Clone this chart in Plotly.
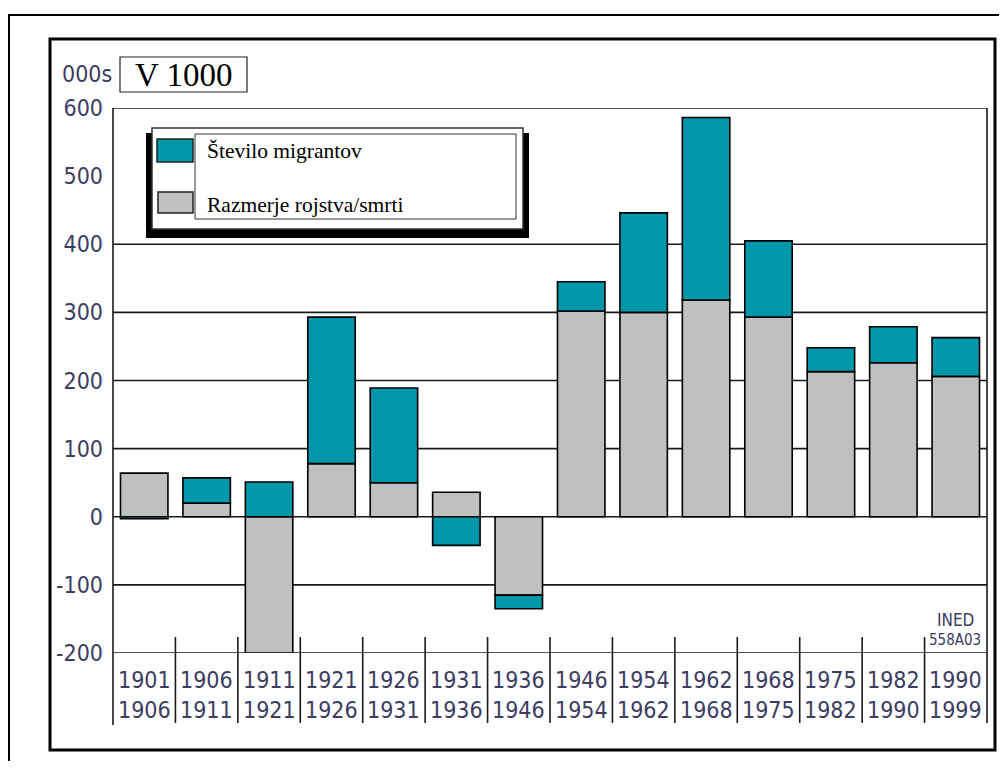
import plotly.graph_objects as go

# ---------------- data ----------------
period_start = ["1901", "1906", "1911", "1921", "1926", "1931", "1936",
                "1946", "1954", "1962", "1968", "1975", "1982", "1990"]
period_end = ["1906", "1911", "1921", "1926", "1931", "1936", "1946",
              "1954", "1962", "1968", "1975", "1982", "1990", "1999"]
natural_balance = [64, 20, -200, 78, 50, 36, -115, 302, 300, 318, 293, 213, 226, 206]
net_migration = [-3, 37, 51, 215, 139, -42, -20, 43, 146, 268, 112, 35, 53, 57]
y_tick_values = [-200, -100, 0, 100, 200, 300, 400, 500, 600]
grid_values = [-200, -100, 0, 100, 200, 300, 400, 600]
series_names = ["Število migrantov", "Razmerje rojstva/smrti"]
unit_label = "000s"
title_box = "V 1000"
source_lines = ["INED", "558A03"]

# ---------------- style ----------------
TEAL = "#0097AB"
GREY = "#C0C0C0"
TXT = "#3c3c62"
NARROW = "Liberation Sans Narrow, Arial Narrow, DejaVu Sans Condensed, sans-serif"
SERIF = "Liberation Serif, Times New Roman, serif"

OFF = 8                      # default page (body) margin
FW, FH = 1007 - 2 * OFF, 769 - 2 * OFF
L, R, T, B = 113, 987, 108, 653   # plot area in page pixels


def px(x):
    return (x - L) / (R - L)


def py(y):
    return (B - y) / (B - T)


categories = [f"{a}-{b}" for a, b in zip(period_start, period_end)]
idx = list(range(len(categories)))

fig = go.Figure()
fig.add_trace(go.Bar(x=idx, y=natural_balance, name=series_names[1],
                     marker=dict(color=GREY, line=dict(color="black", width=1.6)),
                     width=0.76, showlegend=False))
fig.add_trace(go.Bar(x=idx, y=net_migration, name=series_names[0],
                     marker=dict(color=TEAL, line=dict(color="black", width=1.6)),
                     width=0.76, showlegend=False))

LINE = "#1a1a1a"
shapes = []
for g in grid_values:
    shapes.append(dict(type="line", xref="paper", yref="y", x0=0, x1=1, y0=g, y1=g,
                       line=dict(color=LINE, width=1.6), layer="below"))
shapes.append(dict(type="line", xref="paper", yref="paper", x0=0, x1=0,
                   y0=1, y1=py(725), line=dict(color=LINE, width=1.6)))
shapes.append(dict(type="line", xref="paper", yref="paper", x0=1, x1=1,
                   y0=1, y1=py(723), line=dict(color=LINE, width=1.6)))
for i in idx[1:]:
    shapes.append(dict(type="line", xref="x", yref="paper", x0=i - 0.5, x1=i - 0.5,
                       y0=py(637), y1=py(723), line=dict(color=LINE, width=1.6)))
# frames
shapes.append(dict(type="rect", xref="paper", yref="paper",
                   x0=px(50), x1=px(995), y0=py(39), y1=py(750),
                   line=dict(color="black", width=3)))
shapes.append(dict(type="rect", xref="paper", yref="paper",
                   x0=px(9), x1=px(1040), y0=py(15), y1=py(800),
                   line=dict(color="black", width=2)))
# legend box with shadow
shapes.append(dict(type="rect", xref="paper", yref="paper",
                   x0=px(146), x1=px(529), y0=py(133), y1=py(238),
                   line=dict(width=0), fillcolor="black"))
shapes.append(dict(type="rect", xref="paper", yref="paper",
                   x0=px(152), x1=px(523), y0=py(128), y1=py(229),
                   line=dict(color="#333", width=1.5), fillcolor="white"))
shapes.append(dict(type="rect", xref="paper", yref="paper",
                   x0=px(195), x1=px(516), y0=py(134), y1=py(219),
                   line=dict(color="#333", width=1), fillcolor="white"))
shapes.append(dict(type="rect", xref="paper", yref="paper",
                   x0=px(157), x1=px(193), y0=py(139), y1=py(162),
                   line=dict(color="#222", width=1.5), fillcolor=TEAL))
shapes.append(dict(type="rect", xref="paper", yref="paper",
                   x0=px(158), x1=px(193), y0=py(192), y1=py(213),
                   line=dict(color="#222", width=1.5), fillcolor=GREY))
# title box
shapes.append(dict(type="rect", xref="paper", yref="paper",
                   x0=px(120), x1=px(247), y0=py(57), y1=py(92),
                   line=dict(color="#222", width=1.2), fillcolor="white"))

annotations = []
for i, (a, b) in enumerate(zip(period_start, period_end)):
    annotations.append(dict(x=i, y=py(680), xref="x", yref="paper", text=a,
                            showarrow=False, xanchor="center", yanchor="middle",
                            font=dict(family=NARROW, size=23, color=TXT)))
    annotations.append(dict(x=i, y=py(710), xref="x", yref="paper", text=b,
                            showarrow=False, xanchor="center", yanchor="middle",
                            font=dict(family=NARROW, size=23, color=TXT)))
annotations.append(dict(x=px(114), y=py(74), xref="paper", yref="paper", text=unit_label,
                        showarrow=False, xanchor="right", yanchor="middle",
                        font=dict(family=NARROW, size=23, color=TXT)))
annotations.append(dict(x=px(184), y=py(75), xref="paper", yref="paper", text=title_box,
                        showarrow=False, xanchor="center", yanchor="middle",
                        font=dict(family=SERIF, size=33, color="black")))
annotations.append(dict(x=px(205), y=py(151), xref="paper", yref="paper", text=series_names[0],
                        showarrow=False, xanchor="left", yanchor="middle",
                        font=dict(family=SERIF, size=21.5, color="black")))
annotations.append(dict(x=px(205), y=py(205), xref="paper", yref="paper", text=series_names[1],
                        showarrow=False, xanchor="left", yanchor="middle",
                        font=dict(family=SERIF, size=21.5, color="black")))
annotations.append(dict(x=px(955), y=py(620), xref="paper", yref="paper", text=source_lines[0],
                        showarrow=False, xanchor="center", yanchor="middle",
                        font=dict(family=NARROW, size=17, color=TXT)))
annotations.append(dict(x=px(955), y=py(640), xref="paper", yref="paper", text=source_lines[1],
                        showarrow=False, xanchor="center", yanchor="middle",
                        font=dict(family=NARROW, size=15, color=TXT)))

fig.update_layout(
    width=FW, height=FH,
    margin=dict(l=L - OFF, r=FW - (R - OFF), t=T - OFF, b=FH - (B - OFF), pad=0),
    paper_bgcolor="white", plot_bgcolor="white",
    barmode="relative",
    showlegend=False,
    shapes=shapes,
    annotations=annotations,
    xaxis=dict(range=[-0.5, len(categories) - 0.5], showticklabels=False,
               showgrid=False, zeroline=False, showline=False, fixedrange=True),
    yaxis=dict(range=[-200, 600], tickvals=y_tick_values,
               ticktext=[str(v) for v in y_tick_values], showgrid=False,
               zeroline=False, showline=False, ticks="", ticklabelstandoff=9,
               tickfont=dict(family=NARROW, size=23, color=TXT)),
)

fig.write_html("out.html")
